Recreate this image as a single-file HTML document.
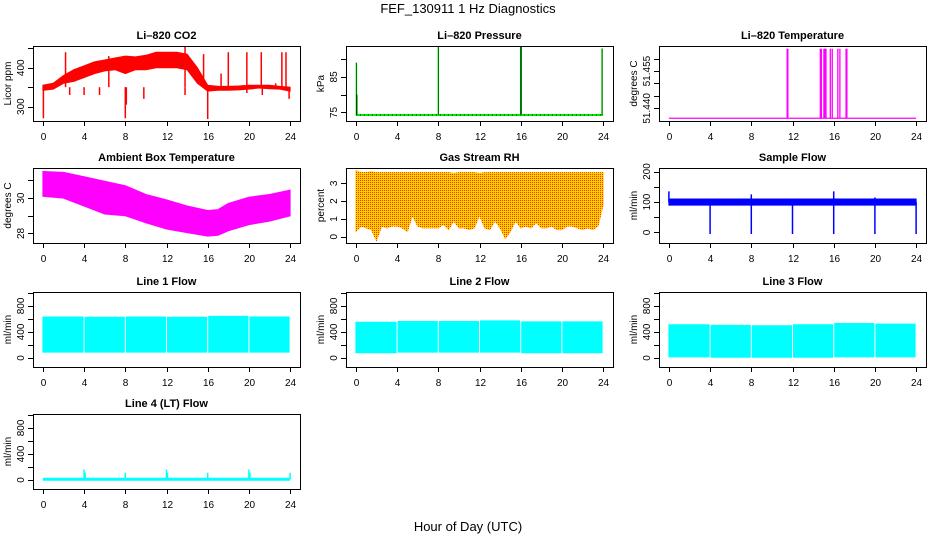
<!DOCTYPE html>
<html><head><meta charset="utf-8"><style>
html,body{margin:0;padding:0;background:#fff;}
svg{display:block;font-family:"Liberation Sans",sans-serif;}
</style></head><body>
<svg id="chart" width="936" height="540" viewBox="0 0 936 540">
<defs>
<pattern id="rhpat" width="2" height="2" patternUnits="userSpaceOnUse">
<rect width="2" height="2" fill="#ffd000"/><rect width="1" height="1" fill="#ff3000"/>
</pattern>
</defs>
<text x="468" y="13" text-anchor="middle" font-size="13">FEF_130911  1 Hz Diagnostics</text>
<text x="468" y="531" text-anchor="middle" font-size="13">Hour of Day (UTC)</text>
</svg>
<script>
// ---- data ----
const xTicks=[0,4,8,12,16,20,24];
// CO2
const co2Hours=[0,1,2,3,4,5,6,7,8,9,10,11,12,13,14,15,16,17,18,19,20,21,22,23,24];
const co2Lo=[342,345,360,365,375,385,392,395,385,395,395,400,400,400,395,360,340,342,342,343,345,348,346,345,340];
const co2Hi=[355,360,380,395,405,415,420,425,430,428,432,440,440,440,435,400,355,352,352,353,355,355,355,352,350];
const co2SpikeHours=[0.05,8,8.1,16,2.6,4,5.5,9.8,13.8,19.8,21.3,23.9,2.2,6.4,18,19.8,21.2,23.2,23.6,15.6,17.3,22.6,13.8];
const co2SpikeVals=[270,270,305,268,330,330,330,320,330,335,330,320,440,430,440,440,440,440,440,435,385,360,455];
const co2Ticks=[300,350,400,450];const co2Labels=[300,400];
// Pressure
const presBase=74.3;
const presSpikeHours=[0.05,0.1,8,16,16.05,23.9];
const presSpikeVals=[89,80,93.5,93.5,93.5,93];
const presTicks=[75,80,85,90];const presLabels=[75,85];
// Li-820 Temperature
const tempBase=51.436;
const tempSpikeHours=[11.48,11.55,14.7,14.8,15.05,15.15,15.25,15.67,15.86,16.4,16.6,17.2,17.28];
const tempSpikeVals=[51.464,51.464,51.464,51.464,51.464,51.464,51.464,51.464,51.464,51.464,51.464,51.464,51.464];
const tempTicks=[51.440,51.445,51.450,51.455,51.460];const tempLabels=[51.440,51.455];
// Ambient box temperature
const ambHours=[0,2,4,6,8,10,12,14,16,17,18,20,22,24];
const ambHi=[31.5,31.45,31.2,30.95,30.7,30.2,29.9,29.55,29.3,29.35,29.7,30.05,30.2,30.45];
const ambLo=[30.1,30.0,29.55,29.1,29.0,28.6,28.25,28.05,27.85,27.9,28.15,28.5,28.7,29.0];
const ambTicks=[28,29,30,31];const ambLabels=[28,30];
// Gas stream RH
const rhHours=[0,0.5,1,1.5,2,2.5,3,3.5,4,4.5,5,5.5,6,6.5,7,7.5,8,8.5,9,9.5,10,10.5,11,11.5,12,12.5,13,13.5,14,14.5,15,15.5,16,16.5,17,17.5,18,18.5,19,19.5,20,20.5,21,21.5,22,22.5,23,23.5,24];
const rhLo=[0.3,0.6,0.5,0.4,-0.2,0.6,0.5,0.6,0.6,0.5,0.3,1.2,0.6,0.5,0.5,0.5,0.5,0.7,0.4,0.9,0.5,0.5,0.4,0.5,1.2,0.5,0.4,0.9,0.5,-0.1,0.3,0.9,0.5,0.6,0.5,0.8,0.5,0.5,0.6,0.4,0.4,0.6,0.6,0.5,0.4,0.5,0.4,0.6,1.8];
const rhHi=[3.7,3.6,3.6,3.65,3.6,3.6,3.6,3.6,3.6,3.6,3.6,3.6,3.6,3.6,3.6,3.6,3.6,3.6,3.6,3.55,3.6,3.6,3.6,3.6,3.55,3.6,3.6,3.6,3.6,3.6,3.6,3.6,3.6,3.6,3.6,3.6,3.6,3.6,3.6,3.6,3.6,3.6,3.6,3.6,3.6,3.6,3.6,3.6,3.6];
const rhTicks=[0,1,2,3];const rhLabels=[0,1,2,3];
// Sample flow
const sfLo=90, sfHi=110;
const sfSpikeHours=[0,8,16,20,4,8,12,16,20,24];
const sfSpikeVals=[135,125,135,115,-5,-5,-5,-5,-5,-5];
const sfTicks=[0,50,100,150,200];const sfLabels=[0,100,200];
// Line flows (segments between purge gaps)
const segStart=[0,4.1,8.1,12.1,16.1,20.1];
const segEnd=[3.9,7.9,11.9,15.9,19.9,23.9];
const l1Lo=[90,90,90,90,90,90];const l1Hi=[630,625,630,625,640,630];
const l2Lo=[80,90,90,90,80,80];const l2Hi=[550,560,560,570,555,555];
const l3Lo=[15,10,10,10,15,15];const l3Hi=[510,500,495,510,530,520];
const l4Base=10;
const l4SpikeHours=[4,4.1,8,12,12.1,16,20,20.1,24];
const l4SpikeVals=[160,110,110,160,110,110,160,110,110];
const flowTicks=[0,200,400,600,800,1000];const flowLabels=[0,400,800];

// ---- layout ----
const svg=document.getElementById('chart');
const NS='http://www.w3.org/2000/svg';
const colL=[33,346,659], W=267, rowT=[46,168,292,414], H=75;
function mk(tag,attrs,parent){const e=document.createElementNS(NS,tag);for(const k in attrs)e.setAttribute(k,attrs[k]);(parent||svg).appendChild(e);return e;}

function panel(name,title,ylab,col,row,dom,ticks,labels){
  const L=colL[col],T=rowT[row];
  const g=mk('g',{});
  
  
  const pad=24*0.04;
  const x=h=>L+(h+pad)/(24+2*pad)*W;
  const y=v=>T+H-(v-dom[0])/(dom[1]-dom[0])*H;
  const t=mk('text',{x:L+W/2,y:T-7,'text-anchor':'middle','font-size':11,'font-weight':'bold'},g);
  t.textContent=title;
  
  
  const plot=mk('g',{},g);
  
  
  const axes=mk('g',{stroke:'#000','stroke-width':1,fill:'none'},g);
  
  
  mk('rect',{x:L+0.5,y:T+0.5,width:W,height:H},axes);
  xTicks.forEach(h=>{
    const px=Math.round(x(h))+0.5;
    mk('line',{x1:px,x2:px,y1:T+H,y2:T+H+5},axes);
    const tl=mk('text',{x:px,y:T+H+19,'text-anchor':'middle','font-size':10,fill:'#000',stroke:'none'},g);
    tl.textContent=h;
    
    
  });
  ticks.forEach(v=>{
    const py=Math.round(y(v))+0.5;
    mk('line',{x1:L-5,x2:L,y1:py,y2:py},axes);
  });
  labels.forEach(v=>{
    const py=y(v);
    const s=(typeof v==='number'&&v%1!==0)?v.toFixed(3):String(v);
    const tl=mk('text',{x:0,y:0,'text-anchor':'middle','font-size':10,transform:`translate(${L-9},${py}) rotate(-90)`},g);
    tl.textContent=s;
    
    
  });
  const yt=mk('text',{x:0,y:0,'text-anchor':'middle','font-size':10,transform:`translate(${L-22},${T+H/2}) rotate(-90)`},g);
  yt.textContent=ylab;
  
  
  return {x,y,plot};
}
function band(p,hours,lo,hi,fill){
  let d='M'+hours.map((h,i)=>p.x(h).toFixed(1)+','+p.y(hi[i]).toFixed(1)).join('L');
  for(let i=hours.length-1;i>=0;i--)d+='L'+p.x(hours[i]).toFixed(1)+','+p.y(lo[i]).toFixed(1);
  const e=mk('path',{d:d+'Z',fill:fill,stroke:fill,'stroke-width':1},p.plot);
  
  
}
function spikes(p,hours,vals,base,color,w){
  hours.forEach((h,i)=>{
    const e=mk('line',{x1:p.x(h),x2:p.x(h),y1:p.y(base),y2:p.y(vals[i]),stroke:color,'stroke-width':w||1.2},p.plot);
    
    
  });
}
function hline(p,v,color,w,dash){
  const e=mk('line',{x1:p.x(0),x2:p.x(24),y1:p.y(v),y2:p.y(v),stroke:color,'stroke-width':w},p.plot);
  if(dash)e.setAttribute('stroke-dasharray',dash);
  
  
}

// CO2
let p=panel('co2','Li\u2013820 CO2','Licor ppm',0,0,[263,456],co2Ticks,co2Labels);
band(p,co2Hours,co2Lo,co2Hi,'#ff0000');
spikes(p,co2SpikeHours,co2SpikeVals,350,'#ff0000',1.5);
// Pressure
p=panel('pressure','Li\u2013820 Pressure','kPa',1,0,[72.6,93.7],presTicks,presLabels);
hline(p,presBase,'#00ee00',2);hline(p,presBase,'#000',0.8,'1,3');
spikes(p,presSpikeHours,presSpikeVals,presBase,'#00ee00',1.5);
spikes(p,presSpikeHours,presSpikeVals,presBase,'#000',0.5);
// Temperature
p=panel('li820-temp','Li\u2013820 Temperature','degrees C',2,0,[51.4349,51.4651],tempTicks,tempLabels);
hline(p,tempBase,'#ff00ff',1.3);
spikes(p,tempSpikeHours,tempSpikeVals,tempBase,'#ff00ff',1.3);
// Ambient
p=panel('ambient-temp','Ambient Box Temperature','degrees C',0,1,[27.46,31.7],ambTicks,ambLabels);
band(p,ambHours,ambLo,ambHi,'#ff00ff');
// RH
p=panel('rh','Gas Stream RH','percent',1,1,[-0.35,3.86],rhTicks,rhLabels);
band(p,rhHours,rhLo,rhHi,'url(#rhpat)');
// Sample flow
p=panel('sample-flow','Sample Flow','ml/min',2,1,[-34.5,211.6],sfTicks,sfLabels);
band(p,[0,24],[sfLo,sfLo],[sfHi,sfHi],'#0000ff');
spikes(p,sfSpikeHours,sfSpikeVals,100,'#0000ff',1.5);
// Line flows
function flowPanel(name,title,col,row,lo,hi){
  const q=panel(name,title,'ml/min',col,row,[-140,1015],flowTicks,flowLabels);
  segStart.forEach((s,i)=>band(q,[s,segEnd[i]],[lo[i],lo[i]],[hi[i],hi[i]],'#00ffff'));
  return q;
}
flowPanel('line1-flow','Line 1 Flow',0,2,l1Lo,l1Hi);
flowPanel('line2-flow','Line 2 Flow',1,2,l2Lo,l2Hi);
flowPanel('line3-flow','Line 3 Flow',2,2,l3Lo,l3Hi);
p=panel('line4-flow','Line 4 (LT) Flow','ml/min',0,3,[-140,1015],flowTicks,flowLabels);
hline(p,l4Base,'#00ffff',3);
spikes(p,l4SpikeHours,l4SpikeVals,l4Base,'#00ffff',1.5);
</script>
</body></html>
